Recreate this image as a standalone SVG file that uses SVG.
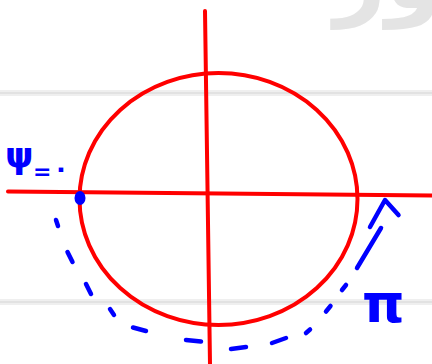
<svg xmlns="http://www.w3.org/2000/svg" width="432" height="364" viewBox="0 0 432 364">
  <style>
    .paper { fill: #ffffff; }
    .rule { fill: #efefef; }
    .rule2 { fill: #e2e2e2; }
    .red { stroke: #ff0000; stroke-width: 4; fill: none; stroke-linecap: round; }
    .dash { stroke: #0000ff; stroke-width: 4.5; fill: none; stroke-linecap: round; stroke-linejoin: round; }
    .lbl { fill: #0000ff; font-family: "DejaVu Sans", sans-serif; font-weight: bold; }
    .wm { fill: #e4e4e4; font-family: "DejaVu Sans", sans-serif; font-weight: bold; }
  </style>
  <rect class="paper" x="0" y="0" width="432" height="364"/>
  <g id="background">
    <rect class="rule" x="0" y="90" width="432" height="6"/>
    <rect class="rule2" x="0" y="92" width="432" height="2"/>
    <rect class="rule" x="0" y="299" width="432" height="6"/>
    <rect class="rule2" x="0" y="301" width="432" height="2"/>
    <text class="wm" x="476" y="8" text-anchor="end" font-size="90">نور</text>
  </g>
  <g id="axes">
    <line class="red" x1="8" y1="191.5" x2="432" y2="195.5"/>
    <line class="red" x1="205" y1="11" x2="210" y2="364"/>
  </g>
  <g id="circle">
    <ellipse class="red" cx="218.5" cy="199" rx="139" ry="126"/>
  </g>
  <g id="start-point">
    <ellipse cx="80" cy="198" rx="5.5" ry="7" fill="#0000ff"/>
  </g>
  <g id="connectors">
    <line class="dash" x1="56" y1="220" x2="58" y2="226"/>
    <line class="dash" x1="67.5" y1="252" x2="72.5" y2="262"/>
    <line class="dash" x1="86" y1="284" x2="91" y2="294"/>
    <line class="dash" x1="110" y1="309" x2="114" y2="315"/>
    <line class="dash" x1="133" y1="327.5" x2="146" y2="331"/>
    <line class="dash" x1="186" y1="340" x2="201" y2="341.5"/>
    <line class="dash" x1="231" y1="349" x2="246" y2="347"/>
    <line class="dash" x1="272" y1="343" x2="286" y2="338"/>
    <line class="dash" x1="306" y1="333" x2="310" y2="329.5"/>
    <line class="dash" x1="326" y1="311.5" x2="330.5" y2="306"/>
    <line class="dash" x1="342" y1="290" x2="346" y2="285"/>
    <line class="dash" x1="357" y1="268" x2="381" y2="228"/>
    <polyline class="dash" points="370,227 385,200 398.5,215"/>
  </g>
  <g id="labels">
    <text class="lbl" x="5" y="168" font-size="36">ψ</text>
    <text class="lbl" x="33" y="179" font-size="22">=</text>
    <text class="lbl" x="53" y="177" font-size="26">٠</text>
    <text class="lbl" x="362" y="322" font-size="54">π</text>
  </g>
</svg>
